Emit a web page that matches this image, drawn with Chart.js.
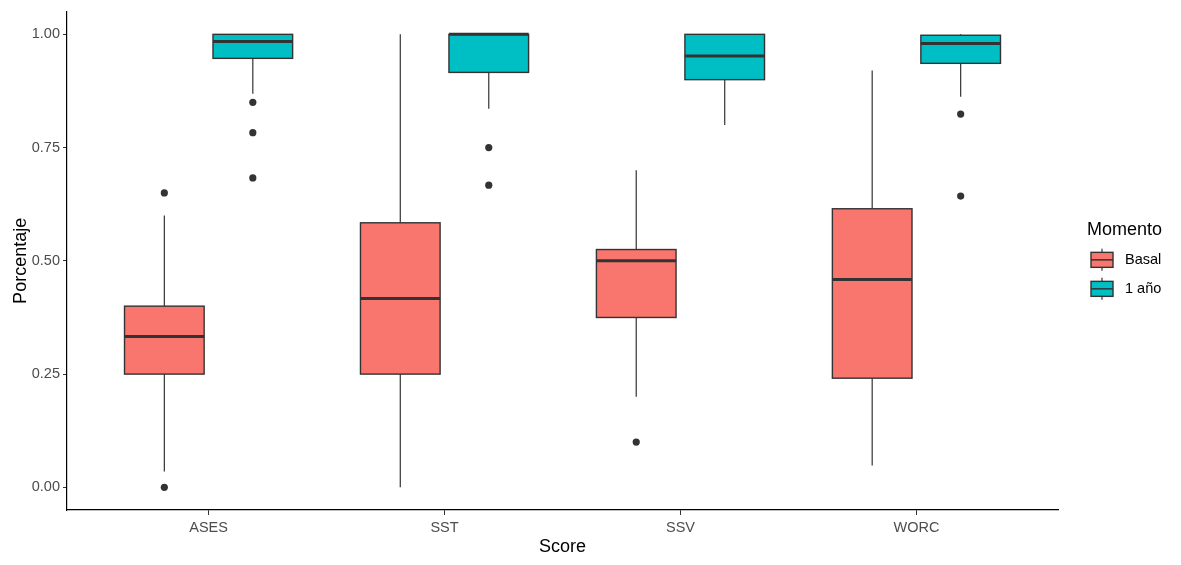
<!DOCTYPE html>
<html>
<head>
<meta charset="utf-8">
<script src="https://cdn.jsdelivr.net/npm/chart.js@4/dist/chart.umd.min.js"></script>
<style>
  html, body { margin: 0; padding: 0; background: #fff; }
  #wrap { width: 1181px; height: 565px; }
</style>
</head>
<body>
<div id="wrap"><canvas id="box"></canvas></div>
<script>
const categories = ["ASES", "SST", "SSV", "WORC"];
const yTicks = [0, 0.25, 0.5, 0.75, 1];

// Basal
const basalLow = [0.035, 0.0, 0.2, 0.048];
const basalQ1 = [0.25, 0.25, 0.375, 0.241];
const basalMed = [0.333, 0.417, 0.5, 0.459];
const basalQ3 = [0.4, 0.584, 0.525, 0.615];
const basalHigh = [0.6, 1.0, 0.7, 0.92];
const basalOut = [[0, 0.65], [], [0.1], []];

// 1 año
const anioLow = [0.869, 0.836, 0.8, 0.862];
const anioQ1 = [0.947, 0.916, 0.9, 0.936];
const anioMed = [0.984, 1.0, 0.952, 0.98];
const anioQ3 = [1.0, 1.0, 1.0, 0.998];
const anioHigh = [1.0, 1.0, 1.0, 1.0];
const anioOut = [[0.85, 0.783, 0.683], [0.75, 0.667], [], [0.824, 0.643]];

const groups = [
  { label: "Basal", color: "#F8766D", shift: -0.1875, low: basalLow, q1: basalQ1, med: basalMed, q3: basalQ3, high: basalHigh, out: basalOut },
  { label: "1 año", color: "#00BFC4", shift: 0.1875, low: anioLow, q1: anioQ1, med: anioMed, q3: anioQ3, high: anioHigh, out: anioOut }
];
const boxWidth = 0.3375;
const ink = "#333333";
const fontFam = "'Liberation Sans', Arial, sans-serif";

function outlierPoints(g) {
  const pts = [];
  g.out.forEach((vals, i) => vals.forEach(v => pts.push({ x: i + 1 + g.shift, y: v })));
  return pts;
}

const boxPlugin = {
  id: "boxes",
  beforeDatasetsDraw(chart) {
    const { ctx } = chart;
    const xs = chart.scales.x, ys = chart.scales.y;
    ctx.save();
    groups.forEach(g => {
      categories.forEach((c, i) => {
        const cx = i + 1 + g.shift;
        const px = xs.getPixelForValue(cx);
        const left = xs.getPixelForValue(cx - boxWidth / 2);
        const right = xs.getPixelForValue(cx + boxWidth / 2);
        const yq1 = ys.getPixelForValue(g.q1[i]);
        const yq3 = ys.getPixelForValue(g.q3[i]);
        // whiskers
        ctx.strokeStyle = ink;
        ctx.lineWidth = 1.2;
        ctx.beginPath();
        ctx.moveTo(px, ys.getPixelForValue(g.high[i]));
        ctx.lineTo(px, yq3);
        ctx.moveTo(px, yq1);
        ctx.lineTo(px, ys.getPixelForValue(g.low[i]));
        ctx.stroke();
        // box
        ctx.fillStyle = g.color;
        ctx.fillRect(left, yq3, right - left, yq1 - yq3);
        ctx.lineWidth = 1.4;
        ctx.strokeRect(left, yq3, right - left, yq1 - yq3);
        // median
        const ym = ys.getPixelForValue(g.med[i]);
        ctx.lineWidth = 3;
        ctx.beginPath();
        ctx.moveTo(left, ym);
        ctx.lineTo(right, ym);
        ctx.stroke();
      });
    });
    ctx.restore();
  },
  afterDraw(chart) {
    const { ctx, chartArea } = chart;
    const x0 = chartArea.right + 29;
    const yMid = (chartArea.top + chartArea.bottom) / 2;
    ctx.save();
    ctx.fillStyle = "#000";
    ctx.textBaseline = "middle";
    ctx.font = "18px " + fontFam;
    ctx.fillText("Momento", x0, yMid - 31);
    groups.forEach((g, k) => {
      const cy = yMid - 1 + k * 29;
      const bx = x0 + 4, bw = 22;
      ctx.strokeStyle = ink;
      ctx.lineWidth = 1.2;
      ctx.beginPath();
      ctx.moveTo(bx + bw / 2, cy - 11);
      ctx.lineTo(bx + bw / 2, cy + 11);
      ctx.stroke();
      ctx.fillStyle = g.color;
      ctx.fillRect(bx, cy - 7.5, bw, 15);
      ctx.lineWidth = 1.4;
      ctx.strokeRect(bx, cy - 7.5, bw, 15);
      ctx.lineWidth = 1.5;
      ctx.beginPath();
      ctx.moveTo(bx, cy);
      ctx.lineTo(bx + bw, cy);
      ctx.stroke();
      ctx.fillStyle = "#000";
      ctx.font = "14.5px " + fontFam;
      ctx.fillText(g.label, x0 + 38, cy);
    });
    ctx.restore();
  }
};

new Chart(document.getElementById("box"), {
  type: "scatter",
  data: {
    datasets: groups.map(g => ({
      label: g.label,
      data: outlierPoints(g),
      pointRadius: 3.6,
      pointBackgroundColor: ink,
      pointBorderWidth: 0,
      pointHoverRadius: 3.6
    }))
  },
  options: {
    responsive: true,
    maintainAspectRatio: false,
    animation: false,
    layout: { padding: { top: 3, right: 123, left: 0, bottom: 0 } },
    plugins: { legend: { display: false }, tooltip: { enabled: false } },
    scales: {
      x: {
        type: "linear",
        min: 0.4,
        max: 4.6,
        afterBuildTicks(scale) { scale.ticks = categories.map((c, i) => ({ value: i + 1 })); },
        afterFit(scale) { scale.height = 55; },
        ticks: {
          callback: v => categories[Math.round(v) - 1],
          color: "#4d4d4d",
          font: { family: fontFam, size: 14.5 },
          padding: 4,
          maxRotation: 0
        },
        grid: { drawOnChartArea: false, color: ink, tickLength: 5 },
        border: { color: "#000", width: 1.2 },
        title: { display: true, text: "Score", color: "#000", font: { family: fontFam, size: 18 }, padding: { top: 0, bottom: 7 } }
      },
      y: {
        min: -0.05,
        max: 1.05,
        afterBuildTicks(scale) { scale.ticks = yTicks.map(v => ({ value: v })); },
        afterFit(scale) { scale.width = 67; },
        ticks: {
          callback: v => v.toFixed(2),
          color: "#4d4d4d",
          font: { family: fontFam, size: 14.5 },
          padding: 3
        },
        grid: { drawOnChartArea: false, color: ink, tickLength: 4 },
        border: { color: "#000", width: 1.2 },
        title: { display: true, text: "Porcentaje", color: "#000", font: { family: fontFam, size: 18 }, padding: { top: 10, bottom: 0 } }
      }
    }
  },
  plugins: [boxPlugin]
});
</script>
</body>
</html>
